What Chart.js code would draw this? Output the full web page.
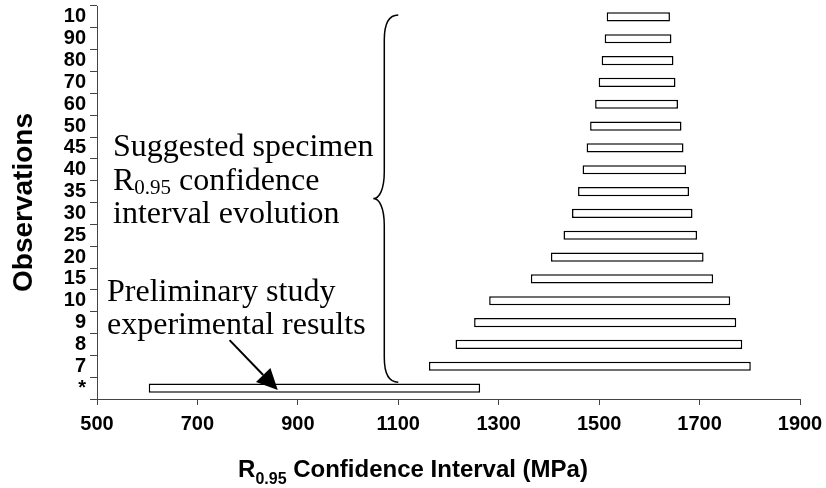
<!DOCTYPE html>
<html><head><meta charset="utf-8">
<script src="https://cdn.jsdelivr.net/npm/chart.js@4/dist/chart.umd.min.js"></script>
<style>html,body{margin:0;padding:0;background:#fff}#wrap{width:826px;height:488px}</style>
</head><body><div id="wrap"><canvas id="c" width="826" height="488"></canvas></div>
<script>
// ---- data ----
const observations = ["10","90","80","70","60","50","45","40","35","30","25","20","15","10","9","8","7","*"];
const intervalLow  = [1515,1511,1505,1499,1492,1482,1475,1467,1458,1446,1429,1404,1364,1281,1251,1214,1161,603];
const intervalHigh = [1641,1644,1648,1652,1657,1664,1668,1673,1679,1686,1695,1708,1727,1761,1773,1785,1802,1263];
const xMin = 500, xMax = 1900, xStep = 200;
const xTitleMain = "R", xTitleSub = "0.95", xTitleRest = " Confidence Interval (MPa)";
const yTitle = "Observations";
const noteSuggested = ["Suggested specimen", ["R", "0.95", " confidence"], "interval evolution"];
const notePrelim = ["Preliminary study", "experimental results"];

const intervals = observations.map((_, i) => [intervalLow[i], intervalHigh[i]]);

const annot = {
  id: 'annot',
  afterDraw(chart) {
    const ctx = chart.ctx, xs = chart.scales.x, ys = chart.scales.y;
    ctx.save();
    ctx.fillStyle = '#000'; ctx.strokeStyle = '#000';
    // brace
    const bx = xs.getPixelForValue(1100);
    const vx = bx - 14, tx = bx - 25;
    const top = ys.getPixelForValue(0) - 2;
    const bot = ys.getPixelForValue(16) + 16;
    const mid = (top + bot) / 2;
    ctx.lineWidth = 1.5;
    ctx.beginPath();
    ctx.moveTo(bx, top);
    ctx.bezierCurveTo(bx - 9, top, vx, top + 8, vx, top + 25);
    ctx.lineTo(vx, mid - 27);
    ctx.bezierCurveTo(vx, mid - 9, vx - 5, mid, tx, mid);
    ctx.bezierCurveTo(vx - 5, mid, vx, mid + 9, vx, mid + 27);
    ctx.lineTo(vx, bot - 25);
    ctx.bezierCurveTo(vx, bot - 8, bx - 9, bot, bx, bot);
    ctx.stroke();
    // arrow
    const tipX = xs.getPixelForValue(860), tipY = ys.getPixelForValue(17) + 2;
    const tailX = xs.getPixelForValue(764), tailY = tipY - 50;
    const dx = tipX - tailX, dy = tipY - tailY, L = Math.hypot(dx, dy);
    const ux = dx / L, uy = dy / L, hl = 21, hw = 10;
    const bxh = tipX - ux * hl, byh = tipY - uy * hl;
    ctx.lineWidth = 2;
    ctx.beginPath(); ctx.moveTo(tailX, tailY); ctx.lineTo(bxh, byh); ctx.stroke();
    ctx.beginPath();
    ctx.moveTo(tipX, tipY);
    ctx.lineTo(bxh - uy * hw, byh + ux * hw);
    ctx.lineTo(bxh + uy * hw, byh - ux * hw);
    ctx.closePath(); ctx.fill();
    // serif notes
    ctx.textBaseline = 'alphabetic'; ctx.textAlign = 'left';
    const big = '32px "Liberation Serif", "Times New Roman", serif';
    const small = '21px "Liberation Serif", "Times New Roman", serif';
    const nx = 113;
    ctx.font = big; ctx.fillText(noteSuggested[0], nx, 156);
    let x = nx;
    ctx.font = big; ctx.fillText(noteSuggested[1][0], x, 190); x += ctx.measureText(noteSuggested[1][0]).width;
    ctx.font = small; ctx.fillText(noteSuggested[1][1], x, 194); x += ctx.measureText(noteSuggested[1][1]).width;
    ctx.font = big; ctx.fillText(noteSuggested[1][2], x, 190);
    ctx.fillText(noteSuggested[2], nx, 223);
    ctx.fillText(notePrelim[0], 107, 301);
    ctx.fillText(notePrelim[1], 107, 334);
    // x-axis title with subscript
    const fMain = 'bold 24px "Liberation Sans", Arial, sans-serif';
    const fSub = 'bold 16px "Liberation Sans", Arial, sans-serif';
    ctx.font = fMain; const w1 = ctx.measureText(xTitleMain).width, w3 = ctx.measureText(xTitleRest).width;
    ctx.font = fSub; const w2 = ctx.measureText(xTitleSub).width;
    let tx0 = chart.width / 2 - (w1 + w2 + w3) / 2;
    const tb = 477;
    ctx.font = fMain; ctx.fillText(xTitleMain, tx0, tb); tx0 += w1;
    ctx.font = fSub; ctx.fillText(xTitleSub, tx0, tb + 7); tx0 += w2;
    ctx.font = fMain; ctx.fillText(xTitleRest, tx0, tb);
    ctx.restore();
  }
};

new Chart(document.getElementById('c'), {
  type: 'bar',
  data: {
    labels: observations,
    datasets: [{
      data: intervals,
      backgroundColor: '#ffffff',
      borderColor: '#000000',
      borderWidth: 1.5,
      borderSkipped: false,
      categoryPercentage: 1,
      barPercentage: 0.42
    }]
  },
  options: {
    indexAxis: 'y',
    responsive: false,
    animation: false,
    devicePixelRatio: 1,
    layout: { padding: { top: 6, right: 26, bottom: 0, left: 0 } },
    plugins: { legend: { display: false }, tooltip: { enabled: false } },
    scales: {
      x: {
        type: 'linear', min: xMin, max: xMax,
        ticks: { stepSize: xStep, color: '#000', padding: 7, maxRotation: 0, autoSkip: false,
                 callback: v => String(v),
                 font: { family: '"Liberation Sans", Arial, sans-serif', size: 20, weight: 'bold' } },
        grid: { drawOnChartArea: false, drawTicks: true, tickLength: 6, color: '#444' },
        border: { display: true, color: '#444', width: 1 },
        title: { display: false },
        afterFit(s) { s.height = 89; s.paddingLeft = 0; s.paddingRight = 0; }
      },
      y: {
        type: 'category', offset: true,
        ticks: { color: '#000', padding: 4, autoSkip: false,
                 font: { family: '"Liberation Sans", Arial, sans-serif', size: 20, weight: 'bold', lineHeight: 1 } },
        grid: { offset: true, drawOnChartArea: false, drawTicks: true, tickLength: 7, color: '#444' },
        border: { display: true, color: '#444', width: 1 },
        title: { display: true, text: yTitle, color: '#000', padding: { top: 7, bottom: 0 },
                 font: { family: '"Liberation Sans", Arial, sans-serif', size: 28, weight: 'bold' } },
        afterFit(s) { s.width = 97; s.paddingTop = 0; s.paddingBottom = 0; }
      }
    }
  },
  plugins: [annot]
});
</script>
</body></html>
